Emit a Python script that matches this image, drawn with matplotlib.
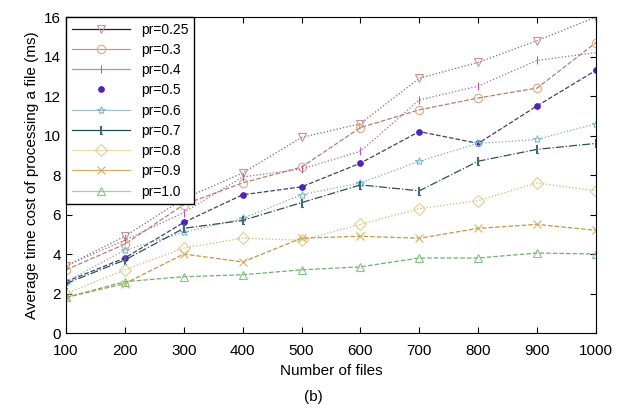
import matplotlib.pyplot as plt
from matplotlib.lines import Line2D

plt.rcParams['font.family'] = ['Liberation Sans', 'DejaVu Sans']

files = [100, 200, 300, 400, 500, 600, 700, 800, 900, 1000]

pr025 = [3.4, 4.9, 6.8, 8.1, 9.9, 10.6, 12.9, 13.7, 14.8, 16.0]
pr03 = [3.2, 4.5, 6.5, 7.6, 8.4, 10.4, 11.3, 11.9, 12.4, 14.7]
pr04 = [3.4, 4.7, 6.1, 7.9, 8.3, 9.2, 11.8, 12.5, 13.8, 14.2]
pr05 = [2.6, 3.8, 5.6, 7.0, 7.4, 8.6, 10.2, 9.6, 11.5, 13.3]
pr06 = [2.6, 4.2, 5.1, 5.8, 7.0, 7.6, 8.7, 9.6, 9.8, 10.6]
pr07 = [2.5, 3.7, 5.3, 5.7, 6.6, 7.5, 7.2, 8.7, 9.3, 9.6]
pr08 = [2.0, 3.2, 4.3, 4.8, 4.7, 5.5, 6.3, 6.7, 7.6, 7.2]
pr09 = [1.8, 2.5, 4.0, 3.6, 4.8, 4.9, 4.8, 5.3, 5.5, 5.2]
pr10 = [1.8, 2.6, 2.85, 2.95, 3.2, 3.35, 3.8, 3.8, 4.05, 4.0]

series = [
    ('pr=0.25', pr025, 'v', '#707070', '#d09090', ':', 'none'),
    ('pr=0.3', pr03, 'o', '#b08070', '#e0a880', '--', 'none'),
    ('pr=0.4', pr04, '|', '#b060a0', '#d050b0', ':', 'none'),
    ('pr=0.5', pr05, '.', '#404070', '#5020c0', '--', 'full'),
    ('pr=0.6', pr06, '*', '#80a8b0', '#80c0c8', ':', 'none'),
    ('pr=0.7', pr07, '$\\lfloor$', '#305050', '#406878', '-.', 'none'),
    ('pr=0.8', pr08, 'D', '#c8b878', '#e0d090', ':', 'none'),
    ('pr=0.9', pr09, 'x', '#c09848', '#d8b060', '--', 'none'),
    ('pr=1.0', pr10, '^', '#70b070', '#80c880', '--', 'none'),
]
legend_colors = ['#202020', '#d09080', '#d080c0', 'none', '#a0c0c8',
                 '#205050', '#e8e0a0', '#d8b060', '#a0d0a0']

fig = plt.figure(figsize=(6.26, 4.18), dpi=100)
ax = fig.add_axes([0.1054, 0.2033, 0.8466, 0.756])

handles = []
for (label, vals, mk, lc, mc, ls, fill), lgc in zip(series, legend_colors):
    ms = 8 if mk == '.' else 6
    ax.plot(files, vals, linestyle=ls, color=lc, linewidth=0.9,
            marker=mk, markersize=ms, markeredgecolor=mc,
            markerfacecolor=mc if fill == 'full' else 'none',
            markeredgewidth=0.8)
    handles.append(Line2D([], [], color=lgc, linewidth=0.9, marker=mk,
                          markersize=ms, markeredgecolor=mc,
                          markerfacecolor=mc if fill == 'full' else 'none',
                          markeredgewidth=0.8, label=label))

ax.set_xlim(100, 1000)
ax.set_ylim(0, 16)
ax.set_xticks(files)
ax.set_yticks(range(0, 17, 2))
ax.tick_params(direction='in', top=True, right=True, labelsize=11, length=4)
ax.tick_params(axis='x', pad=8)
for sp in ax.spines.values():
    sp.set_linewidth(0.8)

ax.set_xlabel('Number of files', fontsize=11, labelpad=4)
ax.set_ylabel('Average time cost of processing a file (ms)', fontsize=11, labelpad=4)

ax.legend(handles=handles, loc='upper left', fontsize=10, handlelength=4.2,
          labelspacing=0.45, borderaxespad=0, fancybox=False,
          edgecolor='black', framealpha=1, borderpad=0.4)

fig.text(0.5, 0.04, '(b)', ha='center', fontsize=11)

fig.savefig('out.png', dpi=100)
